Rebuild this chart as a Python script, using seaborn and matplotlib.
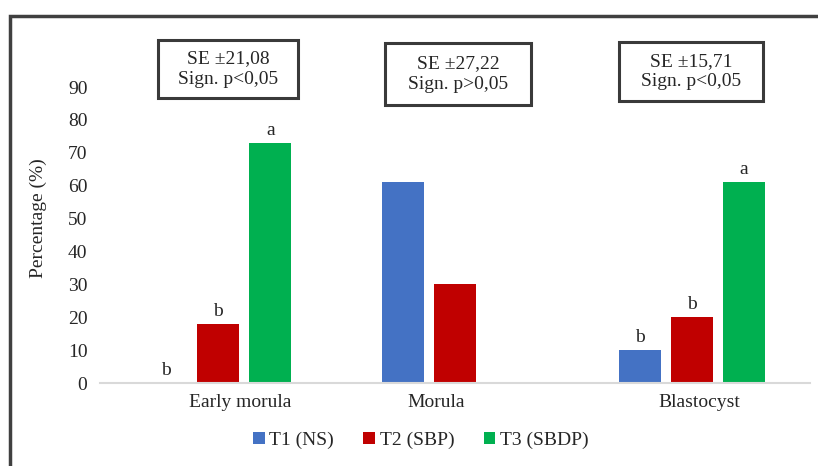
import numpy as np
import pandas as pd
import seaborn as sns
import matplotlib.pyplot as plt
from matplotlib.patches import Rectangle
from matplotlib.transforms import ScaledTranslation

stages = ["Early morula", "Morula", "Blastocyst"]
treatments = ["T1 (NS)", "T2 (SBP)", "T3 (SBDP)"]
t1_values = [0, 61, 10]
t2_values = [18, 30, 20]
t3_values = [73, None, 61]  # no T3 bar for Morula
letters = {
    ("Early morula", "T1 (NS)"): "b",
    ("Early morula", "T2 (SBP)"): "b",
    ("Early morula", "T3 (SBDP)"): "a",
    ("Blastocyst", "T1 (NS)"): "b",
    ("Blastocyst", "T2 (SBP)"): "b",
    ("Blastocyst", "T3 (SBDP)"): "a",
}
se_texts = ["SE \u00b121,08\nSign. p<0,05", "SE \u00b127,22\nSign. p>0,05", "SE \u00b115,71\nSign. p<0,05"]
colors = ["#4472C4", "#C00000", "#00B050"]

rows = []
for tr, vals in zip(treatments, [t1_values, t2_values, t3_values]):
    for st, v in zip(stages, vals):
        if v is not None:
            rows.append({"Stage": st, "Treatment": tr, "Percentage": v})
data = pd.DataFrame(rows)

sns.set_theme(style="white")
plt.rcParams["font.family"] = ["Liberation Serif", "DejaVu Serif"]
plt.rcParams["font.size"] = 14

fig = plt.figure(figsize=(8.18, 4.66), dpi=100)
W, H = 818, 466
ax = fig.add_axes([100 / W, 1 - 383 / H, 710 / W, 296 / H])

sns.barplot(
    data=data,
    x="Stage",
    y="Percentage",
    hue="Treatment",
    order=stages,
    hue_order=treatments,
    palette=colors,
    saturation=1,
    width=0.66,
    gap=0.19,
    errorbar=None,
    linewidth=0,
    ax=ax,
)

ax.set_ylim(0, 90)
ax.set_yticks(range(0, 91, 10))
ax.set_xlim(-0.5, 2.5)
ax.set_xlabel("")
ax.set_ylabel("Percentage (%)", fontsize=14)
ax.yaxis.set_label_coords(-0.075, 0.557)
ax.tick_params(axis="both", length=0, labelsize=14)
ax.tick_params(axis="y", pad=9)
ax.tick_params(axis="x", pad=8)
for side in ["top", "right", "left"]:
    ax.spines[side].set_visible(False)
ax.spines["bottom"].set_color("#d9d9d9")
ax.spines["bottom"].set_linewidth(1.5)

# shift category labels like in the original
for lab, dx in zip(ax.get_xticklabels(), [22, -19, 8]):
    lab.set_transform(lab.get_transform() + ScaledTranslation(dx / 100, 0, fig.dpi_scale_trans))

# significance letters above bars
for container, tr in zip(ax.containers, treatments):
    for bar in container:
        xc = bar.get_x() + bar.get_width() / 2
        st = stages[int(round(xc))]
        txt = letters.get((st, tr))
        if txt:
            ax.annotate(txt, (xc, bar.get_height()), xytext=(0, 3),
                        textcoords="offset points", ha="center", va="bottom",
                        fontsize=14, annotation_clip=False)

ax.legend(
    loc="upper center",
    bbox_to_anchor=(0.452, -0.105),
    ncol=3,
    frameon=False,
    fontsize=14,
    handlelength=0.6,
    handleheight=0.6,
    handletextpad=0.25,
    columnspacing=1.5,
)

# SE boxes
boxes = [(158, 40, 140, 58), (385, 43, 146, 62), (619, 42, 144, 59)]
for (bx, by, bw, bh), txt in zip(boxes, se_texts):
    fig.patches.append(Rectangle((bx / W, 1 - (by + bh) / H), bw / W, bh / H,
                                 transform=fig.transFigure, fill=False,
                                 edgecolor="#3a3a3a", linewidth=2.2))
    fig.text((bx + bw / 2) / W, 1 - (by + bh / 2) / H, txt, ha="center", va="center",
             fontsize=14, linespacing=1.25)

# outer frame (cropped at right and bottom)
fig.patches.append(Rectangle((10 / W, -0.1), 1.2, 1.1 - 16 / H,
                             transform=fig.transFigure, fill=False,
                             edgecolor="#404040", linewidth=2.5, clip_on=False))

fig.savefig("out.png", dpi=100)
